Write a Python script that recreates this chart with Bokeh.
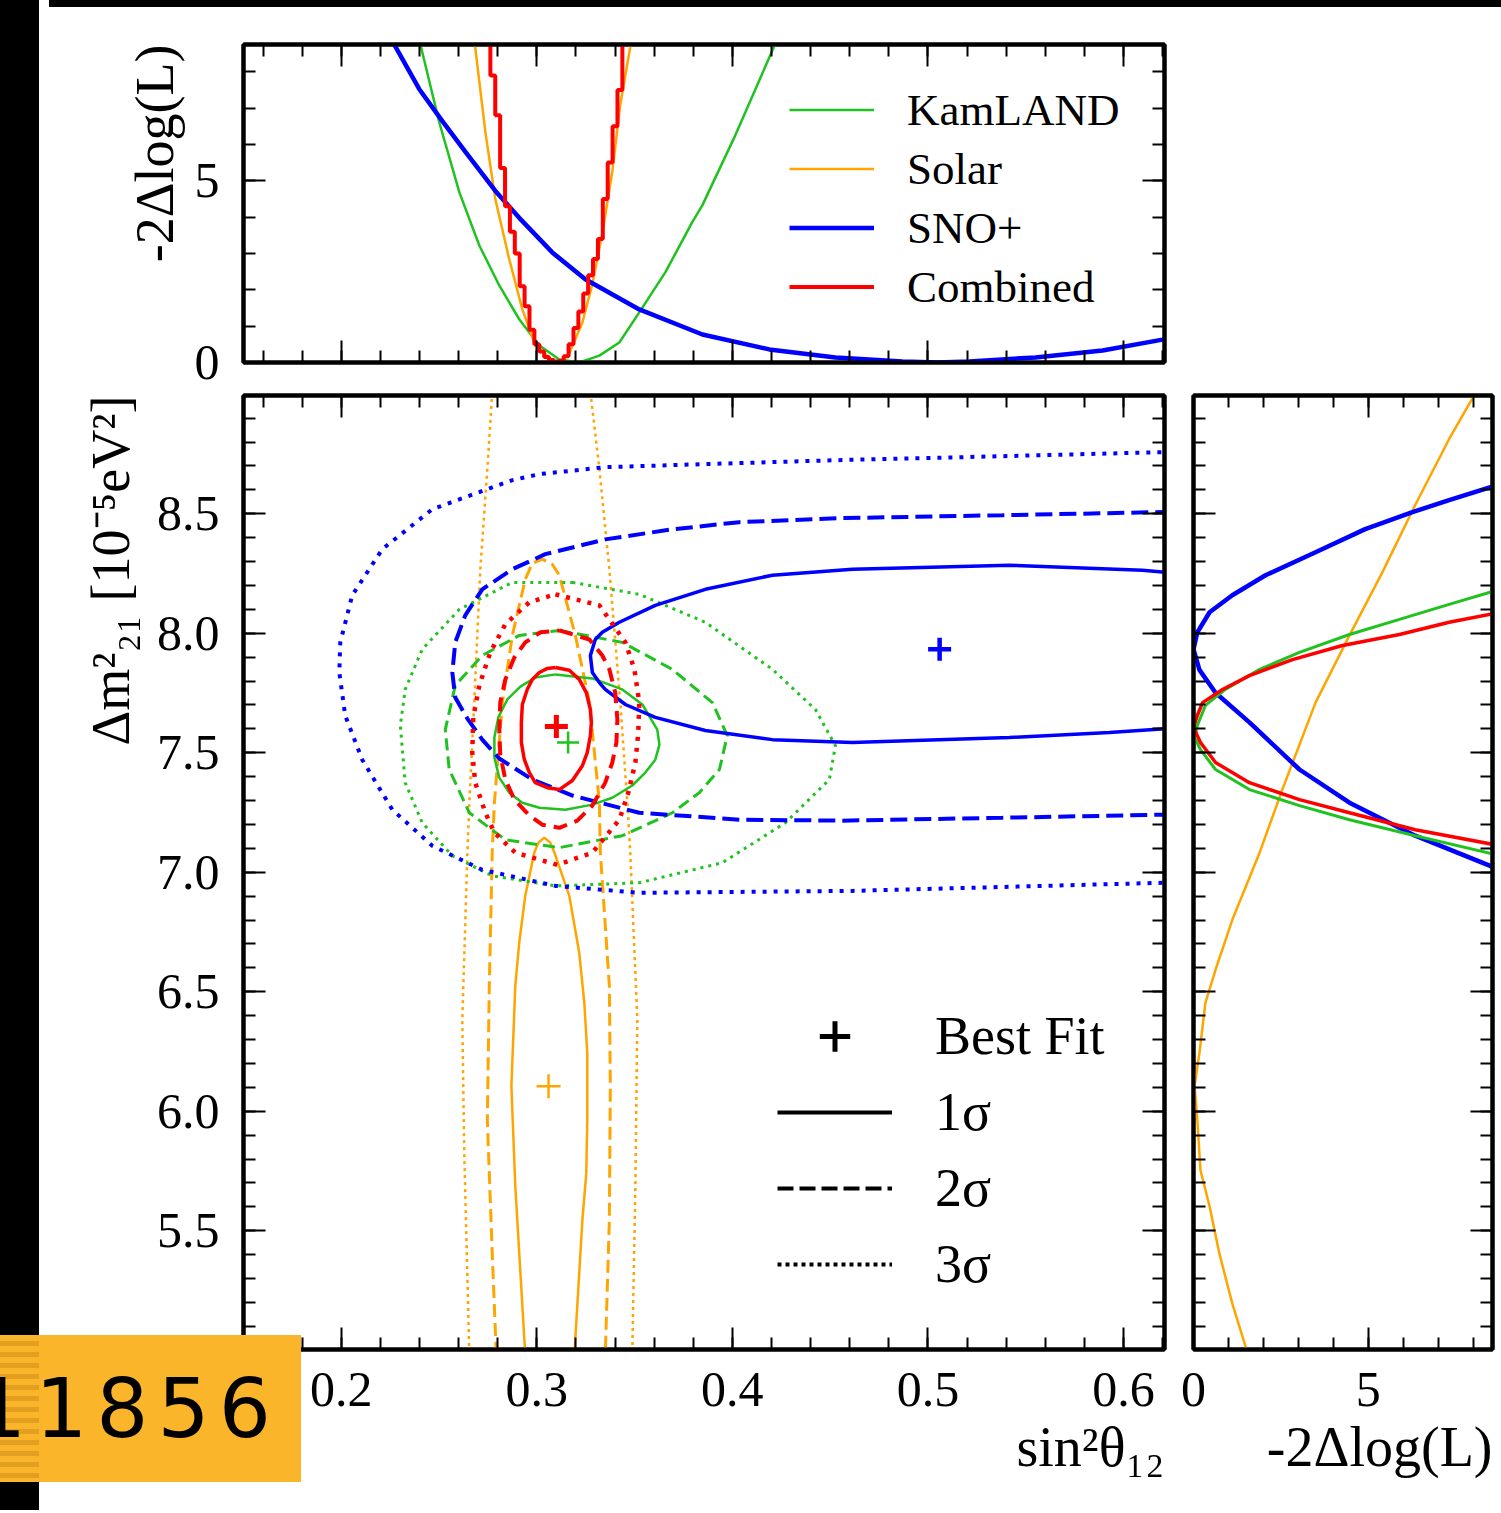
import numpy as np
from bokeh.plotting import figure
from bokeh.models import (Range1d, LinearAxis, SingleIntervalTicker, PrintfTickFormatter,
                          Legend, LegendItem, Div, Title)
from bokeh.layouts import row, column
from bokeh.embed import file_html
from bokeh.resources import INLINE

# ---------------- data ----------------
# Top panel: -2ΔlogL profiles versus sin^2(theta12)
top_kam_x = [0.2398, 0.2501, 0.2604, 0.2706, 0.2808, 0.2910, 0.3013, 0.3115, 0.3217, 0.3320,
             0.3422, 0.3524, 0.3657, 0.3795, 0.3847, 0.4015, 0.4230]
top_kam_y = [8.90, 6.61, 4.68, 3.22, 2.12, 1.19, 0.47, 0.08, 0.00, 0.19,
             0.55, 1.38, 2.48, 3.86, 4.33, 6.25, 8.90]
top_sol_x = [0.2680, 0.2737, 0.2788, 0.2859, 0.2926, 0.2992, 0.3079, 0.3115, 0.3166, 0.3233,
             0.3284, 0.3335, 0.3386, 0.3427, 0.3485]
top_sol_y = [8.90, 6.34, 4.49, 2.84, 1.46, 0.47, 0.06, 0.00, 0.25, 1.10,
             2.15, 3.55, 5.25, 7.10, 8.90]
top_sno_x = [0.2250, 0.2399, 0.2517, 0.2634, 0.2788, 0.2910, 0.3079, 0.3248, 0.3524, 0.3847,
             0.4189, 0.4527, 0.4870, 0.5050, 0.5212, 0.5550, 0.5893, 0.6200, 0.6250]
top_sno_y = [8.95, 7.52, 6.64, 5.80, 4.72, 3.98, 3.03, 2.29, 1.46, 0.77,
             0.36, 0.14, 0.03, 0.00, 0.03, 0.14, 0.33, 0.63, 0.69]
top_com_x = [0.2750, 0.2775, 0.2800, 0.2825, 0.2850, 0.2875, 0.2900, 0.2925, 0.2950, 0.2975,
             0.3000, 0.3025, 0.3050, 0.3075, 0.3100, 0.3125, 0.3150, 0.3175, 0.3200, 0.3225,
             0.3250, 0.3275, 0.3300, 0.3325, 0.3350, 0.3375, 0.3400, 0.3425, 0.3450, 0.3475]
top_com_y = [8.90, 7.90, 6.80, 5.35, 4.30, 3.60, 3.00, 2.10, 1.55, 0.90,
             0.50, 0.30, 0.15, 0.07, 0.03, 0.05, 0.17, 0.50, 0.95, 1.40,
             1.90, 2.40, 2.85, 3.40, 4.50, 5.50, 6.50, 7.50, 8.85, 9.90]

# Main panel: confidence contours (sin^2 theta12, Δm^2_21)
kam_1s_x = [0.3095, 0.3284, 0.3437, 0.3540, 0.3616, 0.3627, 0.3606, 0.3555, 0.3488, 0.3386, 0.3284, 0.3146,
            0.3013, 0.2926, 0.2859, 0.2808, 0.2783, 0.2783, 0.2803, 0.2849, 0.2916, 0.2992, 0.3095]
kam_1s_y = [7.828, 7.811, 7.765, 7.702, 7.597, 7.534, 7.471, 7.417, 7.363, 7.312, 7.283, 7.262,
            7.270, 7.291, 7.333, 7.396, 7.480, 7.564, 7.648, 7.723, 7.777, 7.815, 7.828]
kam_2s_x = [0.3115, 0.3437, 0.3693, 0.3898, 0.3974, 0.3934, 0.3831, 0.3693, 0.3437, 0.3115, 0.2839, 0.2655,
            0.2552, 0.2532, 0.2583, 0.2721, 0.2910, 0.3115]
kam_2s_y = [8.012, 7.962, 7.849, 7.710, 7.572, 7.430, 7.333, 7.249, 7.153, 7.103, 7.136, 7.249,
            7.430, 7.597, 7.782, 7.907, 7.991, 8.012]
kam_3s_x = [0.3182, 0.3524, 0.3862, 0.4205, 0.4425, 0.4527, 0.4496, 0.4271, 0.3949, 0.3524, 0.3095, 0.2772,
            0.2568, 0.2414, 0.2327, 0.2302, 0.2327, 0.2414, 0.2604, 0.2875, 0.3182]
kam_3s_y = [8.213, 8.163, 8.046, 7.849, 7.681, 7.530, 7.388, 7.207, 7.040, 6.956, 6.943, 6.985,
            7.069, 7.207, 7.375, 7.614, 7.765, 7.933, 8.100, 8.213, 8.213]

com_1s_x = [0.3095, 0.3166, 0.3217, 0.3253, 0.3274, 0.3279, 0.3274, 0.3258, 0.3233, 0.3182, 0.3115, 0.3054,
            0.2992, 0.2962, 0.2936, 0.2921, 0.2921, 0.2926, 0.2951, 0.2977, 0.3013, 0.3054, 0.3095]
com_1s_y = [7.857, 7.845, 7.807, 7.752, 7.681, 7.627, 7.572, 7.501, 7.446, 7.384, 7.346, 7.354,
            7.375, 7.417, 7.472, 7.543, 7.627, 7.702, 7.765, 7.807, 7.836, 7.853, 7.857]
com_2s_x = [0.3115, 0.3269, 0.3335, 0.3371, 0.3401, 0.3412, 0.3407, 0.3386, 0.3350, 0.3284, 0.3207, 0.3115,
            0.3028, 0.2962, 0.2885, 0.2839, 0.2813, 0.2808, 0.2813, 0.2839, 0.2885, 0.2941, 0.3018, 0.3115]
com_2s_y = [8.012, 7.974, 7.907, 7.849, 7.752, 7.639, 7.543, 7.459, 7.375, 7.279, 7.216, 7.186,
            7.199, 7.237, 7.304, 7.388, 7.492, 7.597, 7.710, 7.807, 7.899, 7.962, 8.004, 8.012]
com_3s_x = [0.3095, 0.3320, 0.3453, 0.3499, 0.3524, 0.3519, 0.3504, 0.3468, 0.3422, 0.3284, 0.3105,
            0.2890, 0.2783, 0.2737, 0.2685, 0.2670, 0.2675, 0.2706, 0.2762, 0.2839, 0.2962, 0.3095]
com_3s_y = [8.163, 8.117, 7.962, 7.849, 7.710, 7.585, 7.459, 7.333, 7.220, 7.082, 7.031,
            7.082, 7.166, 7.249, 7.375, 7.501, 7.648, 7.782, 7.920, 8.038, 8.130, 8.163]

sno_1s_x = [0.6250, 0.6097, 0.5417, 0.4614, 0.4205, 0.3862, 0.3606, 0.3422, 0.3335, 0.3299, 0.3274,
            0.3284, 0.3320, 0.3350, 0.3453, 0.3606, 0.3862, 0.4205, 0.4614, 0.5417, 0.5928, 0.6250]
sno_1s_y = [8.252, 8.264, 8.285, 8.268, 8.243, 8.184, 8.117, 8.046, 8.004, 7.974, 7.907,
            7.836, 7.794, 7.765, 7.702, 7.648, 7.593, 7.555, 7.543, 7.564, 7.585, 7.603]
sno_2s_x = [0.6250, 0.5381, 0.4563, 0.4036, 0.3693, 0.3350, 0.3043, 0.2875, 0.2721, 0.2634, 0.2583, 0.2568,
            0.2583, 0.2645, 0.2721, 0.2808, 0.2977, 0.3182, 0.3524, 0.4036, 0.4563, 0.5381, 0.6200, 0.6250]
sno_2s_y = [8.508, 8.494, 8.482, 8.465, 8.435, 8.393, 8.331, 8.268, 8.184, 8.075, 7.962, 7.836,
            7.731, 7.643, 7.555, 7.476, 7.388, 7.321, 7.249, 7.220, 7.216, 7.228, 7.241, 7.242]
sno_3s_x = [0.6250, 0.6200, 0.5381, 0.4563, 0.3862, 0.3350, 0.3013, 0.2875, 0.2465, 0.2210, 0.2056, 0.1995,
            0.1990, 0.2020, 0.2107, 0.2261, 0.2465, 0.2721, 0.3095, 0.3524, 0.4614, 0.6200, 0.6250]
sno_3s_y = [8.760, 8.758, 8.741, 8.725, 8.708, 8.695, 8.666, 8.641, 8.519, 8.352, 8.159, 7.962,
            7.836, 7.656, 7.471, 7.262, 7.111, 7.010, 6.943, 6.914, 6.922, 6.956, 6.957]

sol_1s_x = [0.2941, 0.2890, 0.2870, 0.2890, 0.2910, 0.2941, 0.2987, 0.3008, 0.3038, 0.3069,
            0.3090, 0.3166, 0.3217, 0.3243, 0.3258, 0.3258, 0.3253, 0.3233, 0.3192]
sol_1s_y = [4.980, 5.686, 6.105, 6.524, 6.705, 6.902, 7.082, 7.124, 7.145, 7.124,
            7.082, 6.902, 6.663, 6.453, 6.244, 5.963, 5.741, 5.543, 4.980]
sol_2s_x = [0.2793, 0.2772, 0.2747, 0.2757, 0.2772, 0.2783, 0.2824, 0.2875, 0.2941, 0.2977, 0.3028,
            0.3079, 0.3115, 0.3197, 0.3269, 0.3320, 0.3325, 0.3371, 0.3376, 0.3371, 0.3350]
sol_2s_y = [4.980, 5.405, 5.963, 6.524, 7.082, 7.291, 7.710, 7.992, 8.226, 8.293, 8.310,
            8.289, 8.243, 7.992, 7.710, 7.291, 7.082, 6.524, 6.105, 5.543, 4.980]
sol_3s_left_x = [0.2772, 0.2747, 0.2711, 0.2680, 0.2655, 0.2645, 0.2619, 0.2629, 0.2655]
sol_3s_left_y = [9.010, 8.687, 8.268, 7.710, 7.291, 7.082, 6.382, 5.824, 4.980]
sol_3s_right_x = [0.3274, 0.3320, 0.3371, 0.3427, 0.3463, 0.3478, 0.3514, 0.3504, 0.3488]
sol_3s_right_y = [9.010, 8.687, 8.268, 7.710, 7.291, 7.082, 6.382, 5.686, 4.980]

# Best fit points
bf_sno = (0.506, 7.933)
bf_com = (0.310, 7.610)
bf_kam = (0.316, 7.543)
bf_sol = (0.306, 6.105)

# Right panel: -2ΔlogL profiles versus Δm^2_21
r_sno_x = [8.77, 7.31, 6.26, 4.91, 3.49, 2.06, 1.11, 0.46, 0.11, 0.00, 0.17, 0.63, 1.60, 3.03, 4.46, 6.34, 8.77]
r_sno_y = [8.624, 8.557, 8.507, 8.436, 8.339, 8.243, 8.159, 8.088, 8.004, 7.933, 7.847, 7.751, 7.627,
           7.430, 7.291, 7.153, 7.010]
r_kam_x = [8.77, 7.31, 5.89, 4.46, 3.03, 1.89, 0.91, 0.34, 0.11, 0.03, 0.20, 0.63, 1.60, 3.03, 4.46, 6.34, 8.77]
r_kam_y = [8.184, 8.121, 8.058, 7.995, 7.920, 7.849, 7.765, 7.698, 7.614, 7.564, 7.513, 7.430, 7.346,
           7.279, 7.220, 7.153, 7.069]
r_com_x = [8.77, 7.31, 5.89, 4.26, 2.83, 1.60, 0.83, 0.26, 0.11, 0.00, 0.20, 0.63, 1.60, 3.03, 4.46, 6.34, 8.77]
r_com_y = [8.088, 8.046, 7.995, 7.949, 7.890, 7.823, 7.765, 7.710, 7.656, 7.606, 7.543, 7.459, 7.375,
           7.304, 7.249, 7.178, 7.111]
r_sol_x = [8.43, 8.03, 7.31, 6.34, 5.40, 4.46, 3.49, 2.54, 1.89, 1.11, 0.63, 0.34, 0.17, 0.03, 0.11,
           0.20, 0.46, 0.74, 1.11, 1.49, 1.52]
r_sol_y = [9.100, 8.997, 8.813, 8.537, 8.255, 7.991, 7.710, 7.346, 7.082, 6.801, 6.592, 6.453, 6.244,
           6.105, 5.963, 5.753, 5.602, 5.405, 5.195, 5.015, 4.980]

series_labels = ["KamLAND", "Solar", "SNO+", "Combined"]
sigma_labels = ["Best Fit", "1σ", "2σ", "3σ"]
x_title = "sin²θ₁₂"
dm_title = "Δm²₂₁ [10⁻⁵eV²]"
ll_title = "-2Δlog(L)"
badge_text = "11856"

# ---------------- styles ----------------
SERIF = "Liberation Serif"
GREEN = "#1fc21f"
ORANGE = "#ffa500"
BLUE = "#0000ff"
RED = "#ff0000"

x_range = Range1d(0.15, 0.621)
dm_range = Range1d(5.003, 8.995)
top_ll_range = Range1d(0.0, 8.75)
right_ll_range = Range1d(0.0, 8.55)


def base_fig(xr, yr, fw, fh, left, right, top, bottom):
    p = figure(x_range=xr, y_range=yr, frame_width=fw, frame_height=fh,
               min_border_left=left, min_border_right=right,
               min_border_top=top, min_border_bottom=bottom,
               x_axis_location=None, y_axis_location=None, title_location=None,
               output_backend="svg", toolbar_location=None, tools="")
    p.grid.visible = False
    p.outline_line_color = "black"
    p.outline_line_width = 4
    p.background_fill_color = "white"
    p.border_fill_color = "white"
    return p


def add_axis(p, side, interval, fmt=None, size="50px", standoff=24):
    ax = LinearAxis(ticker=SingleIntervalTicker(interval=interval, num_minor_ticks=5))
    ax.axis_line_color = "black"
    ax.axis_line_width = 4
    ax.major_tick_in = 22
    ax.major_tick_out = 0
    ax.minor_tick_in = 12
    ax.minor_tick_out = 0
    ax.major_tick_line_color = "black"
    ax.minor_tick_line_color = "black"
    ax.major_tick_line_width = 2
    ax.minor_tick_line_width = 2
    if fmt is None:
        ax.major_label_text_font_size = "0px"
        ax.major_label_text_alpha = 0
        ax.major_label_standoff = 0
    else:
        ax.formatter = PrintfTickFormatter(format=fmt)
        ax.major_label_text_font = SERIF
        ax.major_label_text_font_size = size
        ax.major_label_text_color = "black"
        ax.major_label_standoff = standoff
    p.add_layout(ax, side)


def add_title(p, side, text, size, standoff):
    p.add_layout(Title(text=text, align="right", offset=0, standoff=standoff,
                       text_font=SERIF, text_font_size=size, text_font_style="normal",
                       text_color="black"), side)


# ---------------- top panel ----------------
top = base_fig(x_range, top_ll_range, 921, 318, 199, 331, 32, 31)
add_axis(top, "below", 0.1)
add_axis(top, "above", 0.1)
add_axis(top, "left", 5, "%d", standoff=24)
add_axis(top, "right", 5)
add_title(top, "left", ll_title, "54px", 14)

r_top_kam = top.line(top_kam_x, top_kam_y, line_color=GREEN, line_width=2.5)
r_top_sol = top.line(top_sol_x, top_sol_y, line_color=ORANGE, line_width=2.5)
r_top_sno = top.line(top_sno_x, top_sno_y, line_color=BLUE, line_width=4.5)
r_top_com = top.step(top_com_x, top_com_y, mode="center", line_color=RED, line_width=4)

leg_top = Legend(items=[LegendItem(label=series_labels[0], renderers=[r_top_kam]),
                        LegendItem(label=series_labels[1], renderers=[r_top_sol]),
                        LegendItem(label=series_labels[2], renderers=[r_top_sno]),
                        LegendItem(label=series_labels[3], renderers=[r_top_com])],
                 location=(546, 46), glyph_width=85, glyph_height=59, label_height=59,
                 spacing=0, padding=0, margin=0, label_standoff=33,
                 label_text_font=SERIF, label_text_font_size="45px", label_text_color="black",
                 background_fill_alpha=0, border_line_alpha=0)
top.add_layout(leg_top)

# ---------------- main panel ----------------
main = base_fig(x_range, dm_range, 921, 954, 199, 14, 2, 158)
add_axis(main, "below", 0.1, "%.1f", standoff=23)
add_axis(main, "above", 0.1)
add_axis(main, "left", 0.5, "%.1f", standoff=24)
add_axis(main, "right", 0.5)
add_title(main, "below", x_title, "56px", 10)
add_title(main, "left", dm_title, "54px", 26)

# Solar
main.line(sol_3s_left_x, sol_3s_left_y, line_color=ORANGE, line_width=2.5, line_dash="3 4")
main.line(sol_3s_right_x, sol_3s_right_y, line_color=ORANGE, line_width=2.5, line_dash="3 4")
main.line(sol_2s_x, sol_2s_y, line_color=ORANGE, line_width=3, line_dash="13 6")
main.line(sol_1s_x, sol_1s_y, line_color=ORANGE, line_width=2.5)
# KamLAND
main.line(kam_3s_x, kam_3s_y, line_color=GREEN, line_width=3, line_dash="3 5")
main.line(kam_2s_x, kam_2s_y, line_color=GREEN, line_width=3, line_dash="12 6")
main.line(kam_1s_x, kam_1s_y, line_color=GREEN, line_width=2.5)
# SNO+
main.line(sno_3s_x, sno_3s_y, line_color=BLUE, line_width=4, line_dash="4 7")
main.line(sno_2s_x, sno_2s_y, line_color=BLUE, line_width=4, line_dash="17 7")
main.line(sno_1s_x, sno_1s_y, line_color=BLUE, line_width=3.5)
# Combined
main.line(com_3s_x, com_3s_y, line_color=RED, line_width=4.5, line_dash="4 7")
main.line(com_2s_x, com_2s_y, line_color=RED, line_width=4, line_dash="14 8")
main.line(com_1s_x, com_1s_y, line_color=RED, line_width=3.5)

# best fits
main.scatter([bf_sol[0]], [bf_sol[1]], marker="cross", size=24, line_color=ORANGE, line_width=2.5)
main.scatter([bf_kam[0]], [bf_kam[1]], marker="cross", size=22, line_color=GREEN, line_width=2.5)
main.scatter([bf_com[0]], [bf_com[1]], marker="cross", size=23, line_color=RED, line_width=5)
main.scatter([bf_sno[0]], [bf_sno[1]], marker="cross", size=23, line_color=BLUE, line_width=4.5)

# style legend (black samples kept outside the visible ranges)
off_x = [0.0, 0.01]
off_y = [0.0, 0.0]
lg_bf = main.scatter(off_x[:1], off_y[:1], marker="cross", size=26, line_color="black", line_width=5)
lg_1 = main.line(off_x, off_y, line_color="black", line_width=4)
lg_2 = main.line(off_x, off_y, line_color="black", line_width=4, line_dash="16 6")
lg_3 = main.line(off_x, off_y, line_color="black", line_width=4, line_dash="4 4")
leg_main = Legend(items=[LegendItem(label=sigma_labels[0], renderers=[lg_bf]),
                         LegendItem(label=sigma_labels[1], renderers=[lg_1]),
                         LegendItem(label=sigma_labels[2], renderers=[lg_2]),
                         LegendItem(label=sigma_labels[3], renderers=[lg_3])],
                  location=(534, 47), glyph_width=115, glyph_height=76, label_height=76,
                  spacing=0, padding=0, margin=0, label_standoff=43,
                  label_text_font=SERIF, label_text_font_size="54px", label_text_color="black",
                  background_fill_alpha=0, border_line_alpha=0)
main.add_layout(leg_main)

# ---------------- right panel ----------------
right = base_fig(right_ll_range, dm_range, 299, 954, 15, 3, 2, 158)
add_axis(right, "below", 5, "%d", standoff=23)
add_axis(right, "above", 5)
add_axis(right, "left", 0.5)
add_axis(right, "right", 0.5)
add_title(right, "below", ll_title, "56px", 10)

right.line(r_sol_x, r_sol_y, line_color=ORANGE, line_width=2.5)
right.line(r_sno_x, r_sno_y, line_color=BLUE, line_width=4.5)
right.line(r_kam_x, r_kam_y, line_color=GREEN, line_width=3)
right.line(r_com_x, r_com_y, line_color=RED, line_width=3.5)

# ---------------- page frame (black border strips and the number badge) ----------------
strip_html = (
    '<div style="position:absolute;left:-8px;top:-8px;width:42px;height:1346px;background:#000;"></div>'
    '<div style="position:absolute;left:-8px;top:1330px;width:304px;height:147px;background:#fbb52a;'
    'overflow:hidden;">'
    '<div style="position:absolute;left:0;top:0;width:42px;height:147px;'
    'background:repeating-linear-gradient(to bottom,#fbb52a 0px,#fbb52a 6px,#e3a020 6px,#e3a020 11px);">'
    '</div>'
    '<div style="position:absolute;left:-23px;top:0;height:147px;color:#000;'
    'font-family:\'DejaVu Sans\',sans-serif;font-size:82px;line-height:147px;'
    'letter-spacing:9px;white-space:nowrap;">' + badge_text + '</div>'
    '</div>'
    '<div style="position:absolute;left:-8px;top:1477px;width:42px;height:28px;background:#000;"></div>'
)
left_strip = Div(text=strip_html, width=34, height=1497,
                 styles={"background-color": "black", "overflow": "visible",
                         "position": "relative", "z-index": "10"})
top_strip = Div(text='<div style="position:absolute;left:0;top:-8px;width:1459px;height:10px;'
                     'background:#000;"></div>',
                width=1451, height=2,
                styles={"background-color": "black", "overflow": "visible",
                        "position": "relative", "z-index": "10"})

right_part = column(top_strip, top, row(main, right))
p = row(left_strip, right_part)

open("out.html", "w").write(file_html(p, INLINE))
